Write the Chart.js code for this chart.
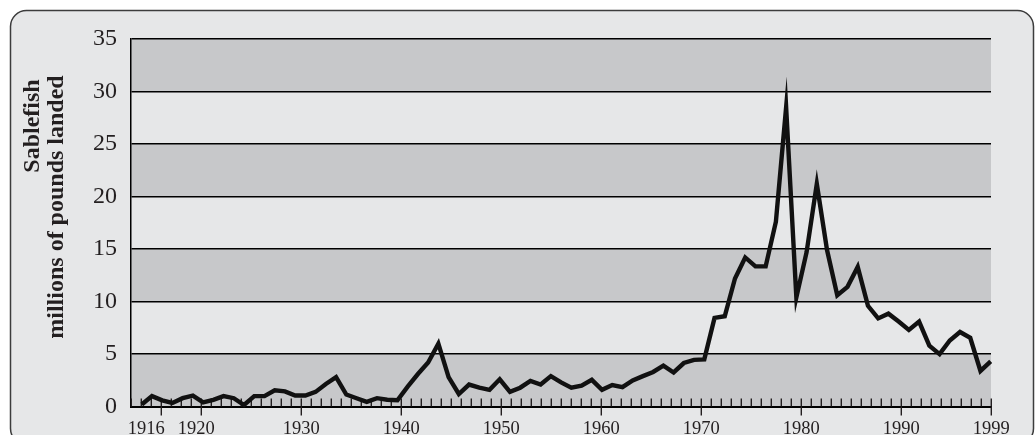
<!DOCTYPE html>
<html>
<head>
<meta charset="utf-8">
<script src="https://cdn.jsdelivr.net/npm/chart.js@4.4.0/dist/chart.umd.min.js"></script>
<style>
html, body { margin: 0; padding: 0; background: #fff; }
#wrap { width: 1036px; height: 435px; position: relative; }
</style>
</head>
<body>
<div id="wrap"><canvas id="sablefishChart"></canvas></div>
<script>
// landing years (one point per year)
const years = [
    1916, 1917, 1918, 1919, 1920, 1921, 1922, 1923, 1924, 1925,
    1926, 1927, 1928, 1929, 1930, 1931, 1932, 1933, 1934, 1935,
    1936, 1937, 1938, 1939, 1940, 1941, 1942, 1943, 1944, 1945,
    1946, 1947, 1948, 1949, 1950, 1951, 1952, 1953, 1954, 1955,
    1956, 1957, 1958, 1959, 1960, 1961, 1962, 1963, 1964, 1965,
    1966, 1967, 1968, 1969, 1970, 1971, 1972, 1973, 1974, 1975,
    1976, 1977, 1978, 1979, 1980, 1981, 1982, 1983, 1984, 1985,
    1986, 1987, 1988, 1989, 1990, 1991, 1992, 1993, 1994, 1995,
    1996, 1997, 1998, 1999
];

// millions of pounds landed
const landed = [
    0.2, 1.0, 0.6, 0.35, 0.8, 1.05, 0.4, 0.65, 1.0, 0.8,
    0.15, 1.0, 1.0, 1.55, 1.45, 1.05, 1.05, 1.4, 2.15, 2.8,
    1.15, 0.8, 0.45, 0.8, 0.65, 0.6, 1.9, 3.1, 4.2, 6.0,
    2.8, 1.2, 2.1, 1.8, 1.6, 2.6, 1.4, 1.8, 2.45, 2.1,
    2.9, 2.3, 1.8, 2.0, 2.55, 1.6, 2.05, 1.85, 2.5, 2.9,
    3.3, 3.9, 3.25, 4.15, 4.45, 4.5, 8.45, 8.6, 12.2, 14.2,
    13.35, 13.35, 17.6, 28.5, 10.4, 14.7, 21.2, 14.9, 10.6, 11.4,
    13.3, 9.6, 8.4, 8.85, 8.1, 7.3, 8.1, 5.8, 5.0, 6.3,
    7.1, 6.55, 3.4, 4.3
];

// labelled years on the time axis
const yearLabels = [1916, 1920, 1930, 1940, 1950, 1960, 1970, 1980, 1990, 1999];
const yTicks = [0, 5, 10, 15, 20, 25, 30, 35];
const titleLines = ['Sablefish', 'millions of pounds landed'];

const LIGHT = '#e6e7e8';
const DARK = '#c7c8ca';
const INK = '#231f20';

// panel + alternating bands
const backdrop = {
    id: 'backdrop',
    beforeDraw(chart) {
        const ctx = chart.ctx;
        const area = chart.chartArea;
        const y = chart.scales.y;
        ctx.save();
        ctx.fillStyle = '#fff';
        ctx.fillRect(0, 0, chart.width, chart.height);
        ctx.beginPath();
        ctx.roundRect(10.5, 10.5, 1023, 434, 16);
        ctx.fillStyle = LIGHT;
        ctx.fill();
        ctx.lineWidth = 1.5;
        ctx.strokeStyle = '#3c3c3c';
        ctx.stroke();
        for (let i = 0; i < yTicks.length - 1; i++) {
            const top = y.getPixelForValue(yTicks[i + 1]);
            const bot = y.getPixelForValue(yTicks[i]);
            ctx.fillStyle = i % 2 === 0 ? DARK : LIGHT;
            ctx.fillRect(area.left, top, area.right - area.left, bot - top);
        }
        ctx.restore();
    }
};

// year ticks under the line, labels below the axis
const yearAxis = {
    id: 'yearAxis',
    beforeDatasetsDraw(chart) {
        const ctx = chart.ctx;
        const x = chart.scales.x;
        const base = chart.chartArea.bottom;
        ctx.save();
        ctx.strokeStyle = INK;
        ctx.lineWidth = 1.4;
        for (let yr = x.min; yr <= x.max; yr++) {
            const px = Math.round(x.getPixelForValue(yr)) + 0.3;
            ctx.beginPath();
            ctx.moveTo(px, base);
            ctx.lineTo(px, base - 8);
            ctx.stroke();
        }
        const nudge = { 1916: -15, 1920: -5 };
        ctx.font = '18.5px "Liberation Serif", serif';
        ctx.fillStyle = INK;
        ctx.textAlign = 'center';
        ctx.textBaseline = 'alphabetic';
        yearLabels.forEach(yr => {
            const px = Math.round(x.getPixelForValue(yr)) + 0.3;
            ctx.beginPath();
            ctx.moveTo(px, base);
            ctx.lineTo(px, base + 9);
            ctx.stroke();
            ctx.fillText(String(yr), px + (nudge[yr] || 0), 434);
        });
        ctx.restore();
    },
    beforeDatasetDraw(chart) {
        chart.ctx.miterLimit = 30;
    },
    afterDatasetDraw(chart) {
        chart.ctx.miterLimit = 10;
    }
};

// rotated two line axis title
const axisTitle = {
    id: 'axisTitle',
    afterDraw(chart) {
        const ctx = chart.ctx;
        ctx.save();
        ctx.font = 'bold 24px "Liberation Serif", serif';
        ctx.fillStyle = INK;
        ctx.textBaseline = 'alphabetic';
        ctx.textAlign = 'center';
        ctx.translate(39, 126);
        ctx.rotate(-Math.PI / 2);
        ctx.fillText(titleLines[0], 0, 0);
        ctx.restore();
        ctx.save();
        ctx.font = 'bold 24px "Liberation Serif", serif';
        ctx.fillStyle = INK;
        ctx.textAlign = 'center';
        ctx.translate(63, 207);
        ctx.rotate(-Math.PI / 2);
        ctx.fillText(titleLines[1], 0, 0);
        ctx.restore();
    }
};

const ctx = document.getElementById('sablefishChart').getContext('2d');
const sablefishChart = new Chart(ctx, {
    type: 'line',
    data: {
        datasets: [{
            label: 'Sablefish landed',
            data: years.map((yr, i) => ({ x: yr, y: landed[i] })),
            xAxisID: 'xData',
            yAxisID: 'y',
            borderColor: '#111',
            borderWidth: 4.4,
            borderJoinStyle: 'miter',
            pointRadius: 0,
            tension: 0,
            fill: false,
            clip: false
        }]
    },
    options: {
        responsive: true,
        maintainAspectRatio: false,
        animation: false,
        devicePixelRatio: 1,
        layout: { padding: { left: 0, right: 45, top: 39, bottom: 27 } },
        plugins: { legend: { display: false }, tooltip: { enabled: false } },
        scales: {
            x: {
                type: 'linear',
                min: 1913,
                max: 1999,
                ticks: { display: false },
                grid: { display: false },
                border: { display: true, color: '#000', width: 2 },
                afterFit(scale) { scale.height = 0; }
            },
            // the plotted line runs a little wider than the year ticks
            xData: {
                type: 'linear',
                axis: 'x',
                position: 'bottom',
                display: false,
                min: 1914.95,
                max: 1999.03
            },
            y: {
                min: 0,
                max: 35,
                ticks: {
                    stepSize: 5,
                    padding: 14,
                    color: INK,
                    font: { family: '"Liberation Serif", serif', size: 24 }
                },
                grid: { color: '#000', lineWidth: 1.5, drawTicks: false },
                border: { display: true, color: '#000', width: 1.5 },
                afterFit(scale) { scale.width = 131; }
            }
        }
    },
    plugins: [backdrop, yearAxis, axisTitle]
});
</script>
</body>
</html>
